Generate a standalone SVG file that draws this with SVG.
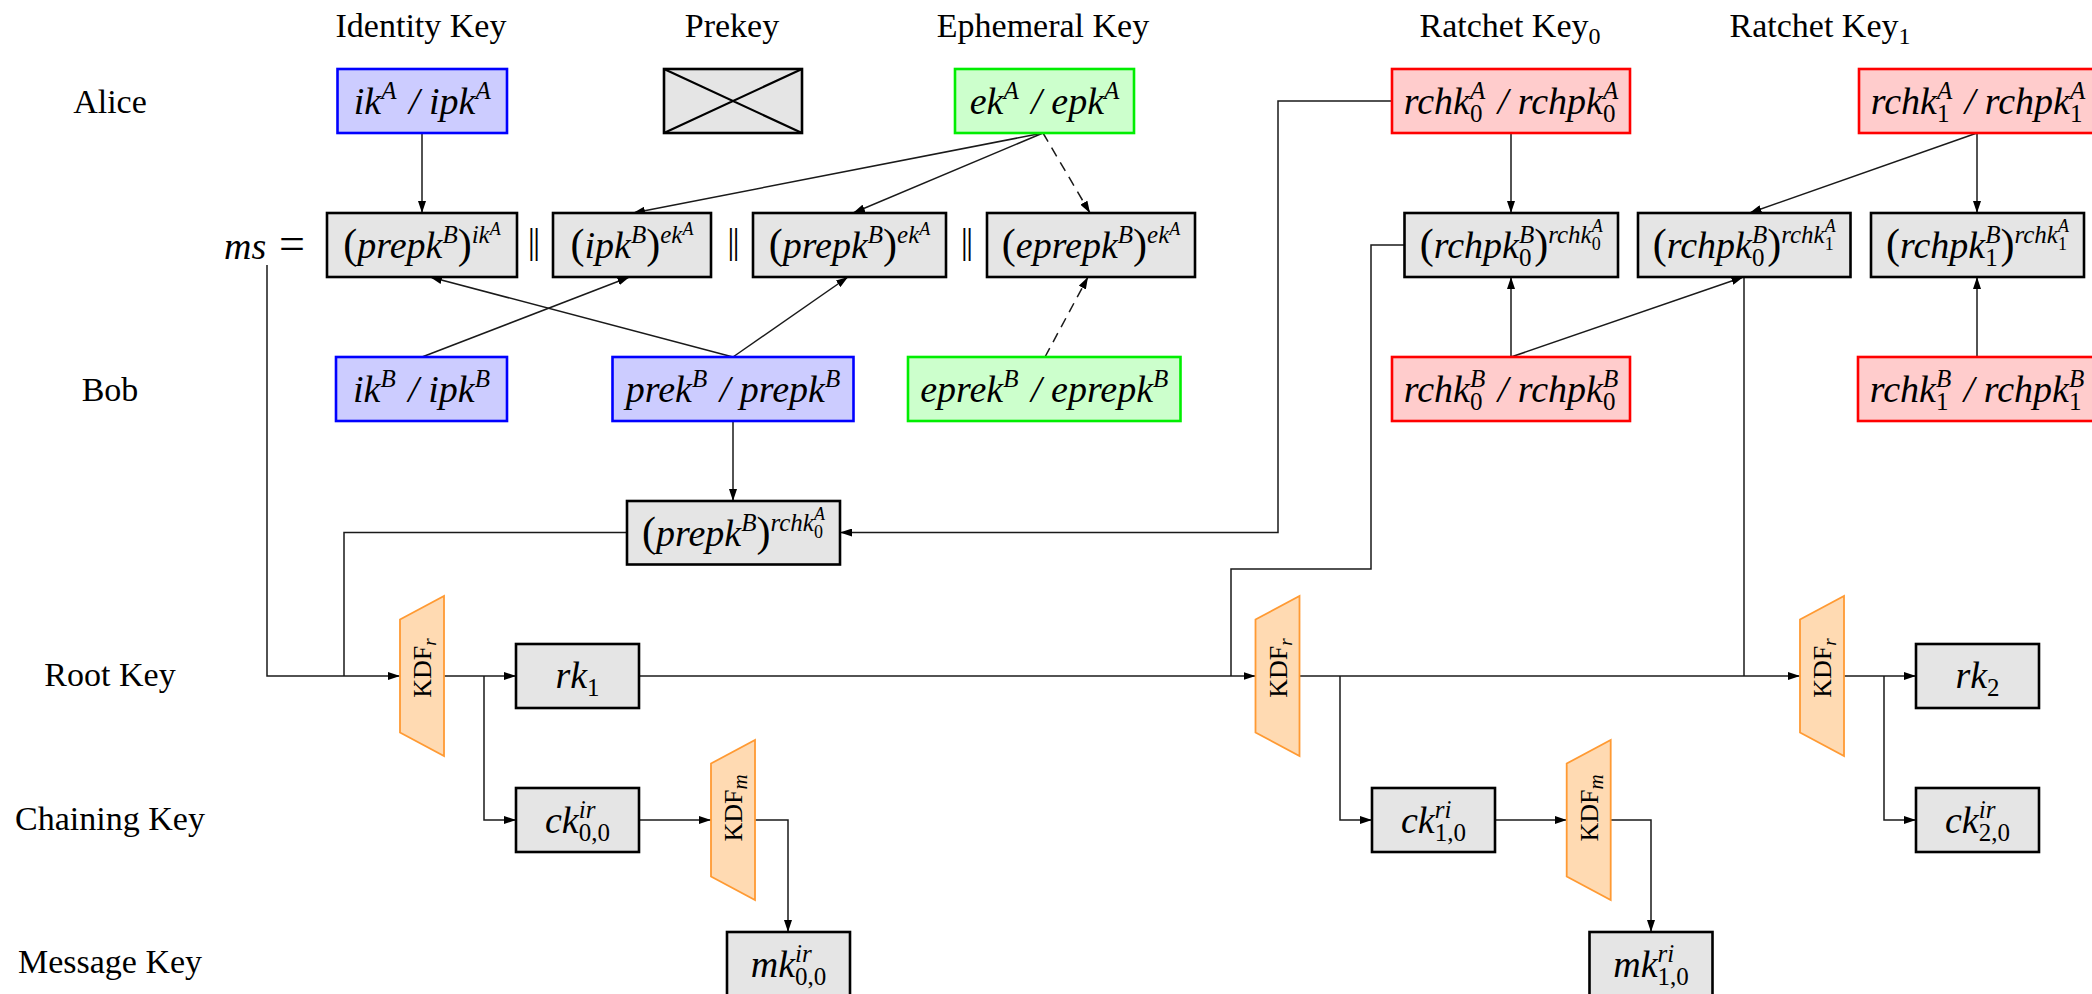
<svg xmlns="http://www.w3.org/2000/svg" width="2092" height="994" viewBox="0 0 2092 994">
  <style>
    .lbl { font-family: "Liberation Serif", "Times New Roman", serif; font-size: 34px; fill: #000; }
    .m { font-family: "Liberation Serif", "Times New Roman", serif; font-style: italic; font-size: 38px; fill: #000; text-anchor: middle; }
    .s { font-size: 25px; }
    .ss { font-size: 18px; }
    .n { font-style: normal; }
    .p { font-style: normal; font-size: 42px; }
    .bar { font-family: "Liberation Serif", "Times New Roman", serif; font-size: 36px; letter-spacing: -2px; text-anchor: middle; fill: #000; }
    .kdf { font-family: "Liberation Serif", "Times New Roman", serif; font-size: 26px; fill: #000; text-anchor: middle; }
    .gray { fill: #e5e5e5; stroke: #000; stroke-width: 2.6; }
    .blue { fill: #ccccff; stroke: #0000ff; stroke-width: 2.6; }
    .green { fill: #ccffcc; stroke: #00ee00; stroke-width: 2.6; }
    .red { fill: #ffcccc; stroke: #ff0000; stroke-width: 2.6; }
    .trap { fill: #ffdab2; stroke: #ff9a33; stroke-width: 1.8; }
    .wire { fill: none; stroke: #1a1a1a; stroke-width: 1.5; }
    .arr { marker-end: url(#ah); }
    .dash { stroke-dasharray: 10 7; }
  </style>
  <defs>
    <marker id="ah" markerWidth="12" markerHeight="8" refX="12" refY="4" orient="auto" markerUnits="userSpaceOnUse">
      <path d="M0,0 L12,4 L0,8 z" fill="#000"/>
    </marker>
  </defs>

  <rect width="2092" height="994" fill="#fff"/>

  <!-- column headers -->
  <g id="headers">
    <text class="lbl" x="421" y="37" text-anchor="middle">Identity Key</text>
    <text class="lbl" x="732" y="37" text-anchor="middle">Prekey</text>
    <text class="lbl" x="1043" y="37" text-anchor="middle">Ephemeral Key</text>
    <text class="lbl" x="1510" y="37" text-anchor="middle">Ratchet Key<tspan font-size="24" dy="7">0</tspan></text>
    <text class="lbl" x="1820" y="37" text-anchor="middle">Ratchet Key<tspan font-size="24" dy="7">1</tspan></text>
  </g>

  <!-- row labels -->
  <g id="rows">
    <text class="lbl" x="110" y="113" text-anchor="middle">Alice</text>
    <text class="lbl" x="110" y="401" text-anchor="middle">Bob</text>
    <text class="lbl" x="110" y="686" text-anchor="middle">Root Key</text>
    <text class="lbl" x="110" y="830" text-anchor="middle">Chaining Key</text>
    <text class="lbl" x="110" y="973" text-anchor="middle">Message Key</text>
  </g>

  <!-- connectors -->
  <g id="connectors" class="wire">
    <path class="arr" d="M422,133 V213"/>
    <path class="arr" d="M1043,133 L633,213"/>
    <path class="arr" d="M1043,133 L853,213"/>
    <path class="arr dash" d="M1043,133 L1090,213"/>
    <path class="arr" d="M422,357 L629.5,277"/>
    <path class="arr" d="M733,357 L430,277"/>
    <path class="arr" d="M733,357 L848,277"/>
    <path class="arr dash" d="M1045,357 L1088,277"/>
    <path class="arr" d="M733,421 V501"/>
    <path class="arr" d="M1392,101 H1278 V532.5 H840"/>
    <path class="arr" d="M267,265 V676 H400"/>
    <path d="M627,532.5 H344 V676"/>
    <path class="arr" d="M444,676 H516"/>
    <path class="arr" d="M484,676 V820 H516"/>
    <path class="arr" d="M639,820 H711"/>
    <path class="arr" d="M755,820 H788 V932"/>
    <path class="arr" d="M639,676 H1255.5"/>
    <path d="M1404.5,245 H1371 V569 H1231 V676"/>
    <path class="arr" d="M1511,133 V213"/>
    <path class="arr" d="M1511,357 V277"/>
    <path class="arr" d="M1511,357 L1743.4,277"/>
    <path class="arr" d="M1977,133 L1749.5,213"/>
    <path class="arr" d="M1977,133 V213"/>
    <path class="arr" d="M1977,357 V277"/>
    <path d="M1744,277 V676"/>
    <path class="arr" d="M1299.5,676 H1800"/>
    <path class="arr" d="M1340,676 V820 H1372"/>
    <path class="arr" d="M1495,820 H1566.7"/>
    <path class="arr" d="M1610.7,820 H1651 V932"/>
    <path class="arr" d="M1844,676 H1916"/>
    <path class="arr" d="M1884,676 V820 H1916"/>
  </g>

  <!-- Alice's keys -->
  <g id="ikA">
    <rect class="blue" x="337.5" y="69" width="169.5" height="64"/>
    <text class="m" x="422.25" y="114">ik<tspan class="s" dy="-15">A</tspan><tspan dy="15" dx="3"> / ipk</tspan><tspan class="s" dy="-15">A</tspan></text>
  </g>
  <g id="prekeyA">
    <rect class="gray" x="664" y="69" width="138" height="64"/>
    <path d="M664,69 L802,133 M802,69 L664,133" stroke="#000" stroke-width="2.2" fill="none"/>
  </g>
  <g id="ekA">
    <rect class="green" x="955" y="69" width="179" height="64"/>
    <text class="m" x="1044.5" y="114">ek<tspan class="s" dy="-15">A</tspan><tspan dy="15" dx="3"> / epk</tspan><tspan class="s" dy="-15">A</tspan></text>
  </g>
  <g id="rchk0A">
    <rect class="red" x="1392" y="69" width="238" height="64"/>
    <text class="m" x="1511" y="114">rchk<tspan class="s n" dy="8">0</tspan><tspan class="s" dx="-12.5" dy="-23">A</tspan><tspan dy="15" dx="3"> / rchpk</tspan><tspan class="s n" dy="8">0</tspan><tspan class="s" dx="-12.5" dy="-23">A</tspan></text>
  </g>
  <g id="rchk1A">
    <rect class="red" x="1859" y="69" width="238" height="64"/>
    <text class="m" x="1978" y="114">rchk<tspan class="s n" dy="8">1</tspan><tspan class="s" dx="-12.5" dy="-23">A</tspan><tspan dy="15" dx="3"> / rchpk</tspan><tspan class="s n" dy="8">1</tspan><tspan class="s" dx="-12.5" dy="-23">A</tspan></text>
  </g>

  <!-- master secret -->
  <g id="ms">
    <text x="224" y="259" font-family="Liberation Serif, serif" font-size="38" font-style="italic">ms</text>
    <text x="279" y="259" font-family="Liberation Serif, serif" font-size="46">=</text>
  </g>
  <g id="dh1">
    <rect class="gray" x="327" y="213" width="190" height="64"/>
    <text class="m" x="422" y="258"><tspan class="p">(</tspan>prepk<tspan class="s" dy="-15">B</tspan><tspan class="p" dy="15">)</tspan><tspan class="s" dy="-15">ik</tspan><tspan class="ss" dy="-8">A</tspan></text>
  </g>
  <text class="bar" x="533" y="253">||</text>
  <g id="dh2">
    <rect class="gray" x="553" y="213" width="158" height="64"/>
    <text class="m" x="632" y="258"><tspan class="p">(</tspan>ipk<tspan class="s" dy="-15">B</tspan><tspan class="p" dy="15">)</tspan><tspan class="s" dy="-15">ek</tspan><tspan class="ss" dy="-8">A</tspan></text>
  </g>
  <text class="bar" x="732.5" y="253">||</text>
  <g id="dh3">
    <rect class="gray" x="753" y="213" width="193" height="64"/>
    <text class="m" x="849.5" y="258"><tspan class="p">(</tspan>prepk<tspan class="s" dy="-15">B</tspan><tspan class="p" dy="15">)</tspan><tspan class="s" dy="-15">ek</tspan><tspan class="ss" dy="-8">A</tspan></text>
  </g>
  <text class="bar" x="966" y="253">||</text>
  <g id="dh4">
    <rect class="gray" x="987" y="213" width="208" height="64"/>
    <text class="m" x="1091" y="258"><tspan class="p">(</tspan>eprepk<tspan class="s" dy="-15">B</tspan><tspan class="p" dy="15">)</tspan><tspan class="s" dy="-15">ek</tspan><tspan class="ss" dy="-8">A</tspan></text>
  </g>

  <!-- ratchet DH outputs -->
  <g id="r00">
    <rect class="gray" x="1404.5" y="213" width="213.5" height="64"/>
    <text class="m" x="1511.25" y="258"><tspan class="p">(</tspan>rchpk<tspan class="s n" dy="8">0</tspan><tspan class="s" dx="-12.5" dy="-23">B</tspan><tspan class="p" dy="15">)</tspan><tspan class="s" dy="-15">rchk</tspan><tspan class="ss n" dy="7">0</tspan><tspan class="ss" dx="-9" dy="-18">A</tspan></text>
  </g>
  <g id="r01">
    <rect class="gray" x="1638" y="213" width="212.5" height="64"/>
    <text class="m" x="1744.25" y="258"><tspan class="p">(</tspan>rchpk<tspan class="s n" dy="8">0</tspan><tspan class="s" dx="-12.5" dy="-23">B</tspan><tspan class="p" dy="15">)</tspan><tspan class="s" dy="-15">rchk</tspan><tspan class="ss n" dy="7">1</tspan><tspan class="ss" dx="-9" dy="-18">A</tspan></text>
  </g>
  <g id="r11">
    <rect class="gray" x="1871" y="213" width="213" height="64"/>
    <text class="m" x="1977.5" y="258"><tspan class="p">(</tspan>rchpk<tspan class="s n" dy="8">1</tspan><tspan class="s" dx="-12.5" dy="-23">B</tspan><tspan class="p" dy="15">)</tspan><tspan class="s" dy="-15">rchk</tspan><tspan class="ss n" dy="7">1</tspan><tspan class="ss" dx="-9" dy="-18">A</tspan></text>
  </g>

  <!-- Bob's keys -->
  <g id="ikB">
    <rect class="blue" x="336" y="357" width="171" height="64"/>
    <text class="m" x="421.5" y="402">ik<tspan class="s" dy="-15">B</tspan><tspan dy="15" dx="3"> / ipk</tspan><tspan class="s" dy="-15">B</tspan></text>
  </g>
  <g id="prekB">
    <rect class="blue" x="612.5" y="357" width="241" height="64"/>
    <text class="m" x="733" y="402">prek<tspan class="s" dy="-15">B</tspan><tspan dy="15" dx="3"> / prepk</tspan><tspan class="s" dy="-15">B</tspan></text>
  </g>
  <g id="eprekB">
    <rect class="green" x="908" y="357" width="272.5" height="64"/>
    <text class="m" x="1044.25" y="402">eprek<tspan class="s" dy="-15">B</tspan><tspan dy="15" dx="3"> / eprepk</tspan><tspan class="s" dy="-15">B</tspan></text>
  </g>
  <g id="rchk0B">
    <rect class="red" x="1392" y="357" width="238" height="64"/>
    <text class="m" x="1511" y="402">rchk<tspan class="s n" dy="8">0</tspan><tspan class="s" dx="-12.5" dy="-23">B</tspan><tspan dy="15" dx="3"> / rchpk</tspan><tspan class="s n" dy="8">0</tspan><tspan class="s" dx="-12.5" dy="-23">B</tspan></text>
  </g>
  <g id="rchk1B">
    <rect class="red" x="1858" y="357" width="238" height="64"/>
    <text class="m" x="1977" y="402">rchk<tspan class="s n" dy="8">1</tspan><tspan class="s" dx="-12.5" dy="-23">B</tspan><tspan dy="15" dx="3"> / rchpk</tspan><tspan class="s n" dy="8">1</tspan><tspan class="s" dx="-12.5" dy="-23">B</tspan></text>
  </g>

  <g id="dhPreRatchet">
    <rect class="gray" x="627" y="501" width="213" height="63.5"/>
    <text class="m" x="733.5" y="546"><tspan class="p">(</tspan>prepk<tspan class="s" dy="-15">B</tspan><tspan class="p" dy="15">)</tspan><tspan class="s" dy="-15">rchk</tspan><tspan class="ss n" dy="7">0</tspan><tspan class="ss" dx="-9" dy="-18">A</tspan></text>
  </g>

  <!-- key derivation functions -->
  <g id="kdfR1">
    <polygon class="trap" points="400,619.5 444,596 444,756 400,732.5"/>
    <text class="kdf" transform="translate(431,668) rotate(-90)">KDF<tspan font-style="italic" font-size="19" dy="5">r</tspan></text>
  </g>
  <g id="kdfM1">
    <polygon class="trap" points="711,763.5 755,740 755,900 711,876.5"/>
    <text class="kdf" transform="translate(742,808) rotate(-90)">KDF<tspan font-style="italic" font-size="21" dy="5">m</tspan></text>
  </g>
  <g id="kdfR2">
    <polygon class="trap" points="1255.5,619.5 1299.5,596 1299.5,756 1255.5,732.5"/>
    <text class="kdf" transform="translate(1286.5,668) rotate(-90)">KDF<tspan font-style="italic" font-size="19" dy="5">r</tspan></text>
  </g>
  <g id="kdfM2">
    <polygon class="trap" points="1566.7,763.5 1610.7,740 1610.7,900 1566.7,876.5"/>
    <text class="kdf" transform="translate(1597.7,808) rotate(-90)">KDF<tspan font-style="italic" font-size="21" dy="5">m</tspan></text>
  </g>
  <g id="kdfR3">
    <polygon class="trap" points="1800,619.5 1844,596 1844,756 1800,732.5"/>
    <text class="kdf" transform="translate(1831,668) rotate(-90)">KDF<tspan font-style="italic" font-size="19" dy="5">r</tspan></text>
  </g>

  <!-- root, chaining and message keys -->
  <g id="rk1">
    <rect class="gray" x="516" y="644" width="123" height="64"/>
    <text class="m" x="577.5" y="688">rk<tspan class="s n" dy="8">1</tspan></text>
  </g>
  <g id="ck00">
    <rect class="gray" x="516" y="788" width="123" height="64"/>
    <text class="m" x="577.5" y="833">ck<tspan class="s" dy="-15">ir</tspan><tspan class="s n" dx="-16.7" dy="23">0,0</tspan></text>
  </g>
  <g id="mk00">
    <rect class="gray" x="727" y="932" width="123" height="64"/>
    <text class="m" x="788.5" y="977">mk<tspan class="s" dy="-15">ir</tspan><tspan class="s n" dx="-16.7" dy="23">0,0</tspan></text>
  </g>
  <g id="ck10">
    <rect class="gray" x="1372" y="788" width="123" height="64"/>
    <text class="m" x="1433.5" y="833">ck<tspan class="s" dy="-15">ri</tspan><tspan class="s n" dx="-16.7" dy="23">1,0</tspan></text>
  </g>
  <g id="mk10">
    <rect class="gray" x="1589.5" y="932" width="123" height="64"/>
    <text class="m" x="1651" y="977">mk<tspan class="s" dy="-15">ri</tspan><tspan class="s n" dx="-16.7" dy="23">1,0</tspan></text>
  </g>
  <g id="rk2">
    <rect class="gray" x="1916" y="644" width="123" height="64"/>
    <text class="m" x="1977.5" y="688">rk<tspan class="s n" dy="8">2</tspan></text>
  </g>
  <g id="ck20">
    <rect class="gray" x="1916" y="788" width="123" height="64"/>
    <text class="m" x="1977.5" y="833">ck<tspan class="s" dy="-15">ir</tspan><tspan class="s n" dx="-16.7" dy="23">2,0</tspan></text>
  </g>
</svg>
